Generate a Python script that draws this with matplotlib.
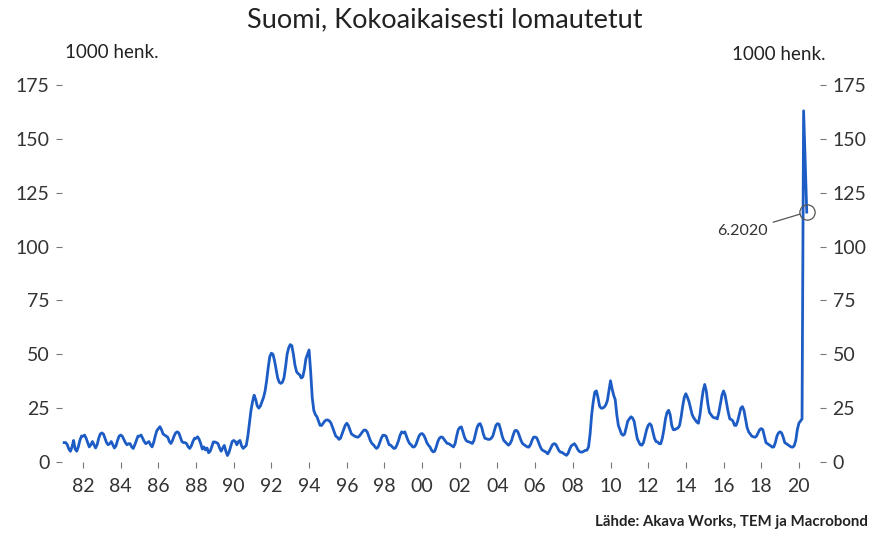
import numpy as np
import matplotlib.pyplot as plt

# Kokoaikaisesti lomautetut, 1000 henk., kuukausittain 1/1981 - 6/2020
v_1980s = [
    9, 9, 8, 6, 5, 7, 10, 6, 5, 7, 10, 12,                 # 1981
    12, 12.5, 11, 9, 7, 8, 9.5, 8, 6.5, 8, 11, 13,         # 1982
    13.5, 13, 11, 9, 8, 8.5, 9.5, 8, 6.5, 7.5, 10, 12,     # 1983
    12.5, 12, 10.5, 9, 8, 8.5, 8.5, 7, 6.3, 8, 10, 12,     # 1984
    12, 12.5, 11, 9.5, 8.5, 9, 9.5, 8, 7, 9, 12, 14.5,     # 1985
    15.5, 16.4, 15, 13, 12.5, 12, 11.5, 9.5, 8.6, 10, 12, 13.5,  # 1986
    14, 13.5, 11.5, 9.5, 9, 9, 8.5, 7, 6.3, 7.5, 9.5, 11,  # 1987
    11, 11.7, 10.5, 8.5, 6, 7, 5.6, 6.5, 4.3, 5, 7, 9.3,   # 1988
    9.3, 9, 8.5, 6.5, 5, 6.5, 7.7, 5, 3, 4.5, 7, 9.5,      # 1989
]
v_1990s = [
    10, 9.5, 8, 9.5, 10, 7.5, 6.3, 7, 7.7, 12, 18, 24,     # 1990
    28, 31, 29, 26, 25, 26, 28, 30, 33, 38, 44, 49,        # 1991
    50.5, 50, 47, 43, 39, 37, 36.5, 37, 39, 44, 50, 53,    # 1992
    54.5, 54, 50, 45, 42, 41, 40.5, 39, 39.5, 43, 48, 50,  # 1993
    52, 42, 30, 24, 22, 21, 19, 17, 17, 18, 19, 19.5,      # 1994
    19.5, 19, 18, 16, 14, 12, 11.5, 10.5, 11, 13, 15, 17,  # 1995
    18, 17, 15, 13, 12.5, 12, 11.7, 11.5, 12, 13, 14, 14.8,  # 1996
    14.8, 14, 12, 10, 8.6, 8, 7, 6.3, 7, 9, 11, 12.4,      # 1997
    12.4, 12, 10, 8, 7.8, 7, 6.3, 6.5, 8, 10, 12.5, 14,    # 1998
    13.5, 14, 12, 10, 8.6, 8, 7, 7, 8, 10, 12, 13,         # 1999
]
v_2000s = [
    13.2, 12.5, 11, 9, 7.8, 7, 5.5, 4.7, 5, 7, 9.5, 11,    # 2000
    11.6, 11.5, 10.5, 9.5, 8.6, 8.5, 8, 7.5, 7, 8.5, 12, 15,  # 2001
    16, 16.3, 14, 11.5, 10, 9.5, 9.3, 9, 8.6, 10, 13, 16,  # 2002
    17.5, 17.8, 16, 13, 11, 10.8, 10.5, 10.5, 11, 12, 14.5, 17,  # 2003
    17.8, 17.5, 15, 12, 10, 9.3, 8.5, 7.8, 8.5, 10, 12.5, 14.5,  # 2004
    14.7, 14, 12, 10, 8.5, 8, 7.5, 7, 6.9, 8, 10, 11.5,    # 2005
    11.6, 11.2, 9.5, 7.5, 6, 5.3, 5, 4.5, 3.8, 5, 6.5, 8,  # 2006
    8.5, 8.3, 7, 5.5, 4.6, 4.5, 4, 3.5, 3.1, 4, 6, 7.5,    # 2007
    8, 8.5, 7.5, 6, 5, 4.6, 4.6, 5, 5.4, 5.5, 7, 13,       # 2008
    22, 28, 32.5, 33, 30, 26, 25, 25, 25.5, 26.5, 28.5, 33,  # 2009
]
v_2010s = [
    37.7, 34, 31, 29, 22, 17, 15, 13, 12.4, 13, 16, 19,    # 2010
    20, 21, 20.5, 19, 15, 11, 9.3, 8, 7.8, 9, 12, 15,      # 2011
    17, 17.8, 17, 14, 11, 9.5, 9.3, 8.5, 8.5, 11, 15, 20,  # 2012
    23, 24, 22, 17, 15, 15, 15.5, 15.8, 17, 21, 26, 30,    # 2013
    31.7, 30, 28, 25, 22, 20.5, 19.5, 18.5, 18, 22, 28, 33,  # 2014
    36, 33, 27, 23, 22, 21, 20.5, 20.5, 20, 23, 27, 31,    # 2015
    33, 31, 27, 23, 20, 19.7, 19, 17, 17, 19, 22, 25,      # 2016
    25.7, 24, 20, 16, 14, 13, 12, 11.7, 11.5, 12, 13.5, 15,  # 2017
    15.5, 15, 12, 9, 8.5, 8, 7.5, 6.9, 7, 9, 12, 13.5,     # 2018
    14, 13.5, 11.5, 9, 8.5, 8, 7.5, 7, 6.9, 7.5, 10, 15,   # 2019
]
v_2020 = [18, 19, 20, 163, 140, 116]

values = np.array(v_1980s + v_1990s + v_2000s + v_2010s + v_2020)
dates = 1981 + np.arange(len(values)) / 12

year_ticks = list(range(1982, 2021, 2))
year_labels = ['%02d' % (y % 100) for y in year_ticks]
y_ticks = [0, 25, 50, 75, 100, 125, 150, 175]

plt.rcParams['font.family'] = ['Lato', 'DejaVu Sans']

fig = plt.figure(figsize=(8.75, 5.33), dpi=100)
ax = fig.add_axes([62 / 875, (533 - 462) / 533, (820 - 62) / 875, (462 - 85) / 533])

ax.plot(dates, values, color='#1c5cc4', lw=2.0, solid_joinstyle='round')

ax.set_xlim(1980.885, 2021.12)
ax.set_ylim(0, 175)
for s in ax.spines.values():
    s.set_visible(False)

ax.set_xticks(year_ticks)
ax.set_xticklabels(year_labels)
ax.set_yticks(y_ticks)
ax.tick_params(axis='x', length=4.5, width=0.8, color='#777777', pad=7,
               labelsize=14, labelcolor='#333333')
ax.tick_params(axis='y', length=4, width=0.8, color='#777777', pad=5,
               labelsize=14, labelcolor='#333333')

ax2 = ax.twinx()
ax2.set_ylim(0, 175)
ax2.set_yticks(y_ticks)
for s in ax2.spines.values():
    s.set_visible(False)
ax2.tick_params(axis='y', length=4, width=0.8, color='#777777', pad=5,
                labelsize=14, labelcolor='#333333')

# kesäkuu 2020 merkintä
june_x = dates[-1]
june_y = values[-1]
ax.plot([june_x], [june_y], marker='o', ms=11, mfc='none', mec='#555555', mew=0.9)
ax.annotate('6.2020', xy=(june_x, june_y), xytext=(2017.0, 107),
            ha='center', va='center', fontsize=11.5, color='#333333',
            arrowprops=dict(arrowstyle='-', color='#555555', lw=0.9,
                            shrinkA=2, shrinkB=5))

fig.text(0.508, 0.962, 'Suomi, Kokoaikaisesti lomautetut', ha='center', va='center',
         fontsize=19.5, color='#222222')
fig.text(65 / 875, 1 - 52 / 533, '1000 henk.', ha='left', va='center',
         fontsize=13.5, color='#222222')
fig.text(826 / 875, 1 - 55 / 533, '1000 henk.', ha='right', va='center',
         fontsize=13.5, color='#222222')
fig.text(868 / 875, 1 - 522 / 533, 'Lähde: Akava Works, TEM ja Macrobond', ha='right',
         va='center', fontsize=10.8, fontweight='bold', color='#222222')

fig.savefig('out.png', dpi=100)
